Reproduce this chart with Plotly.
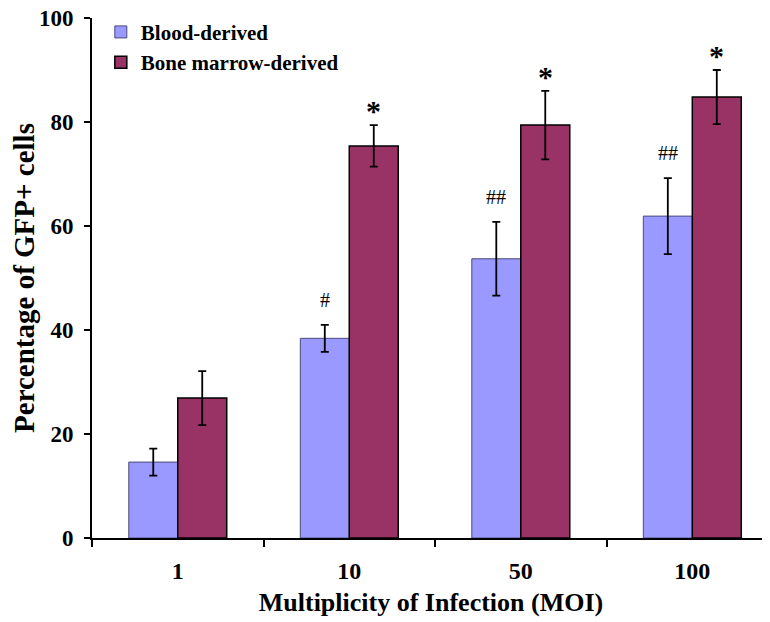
import plotly.graph_objects as go

categories = ["1", "10", "50", "100"]
blood_values = [14.6, 38.4, 53.7, 61.9]
blood_err = [2.6, 2.6, 7.1, 7.3]
marrow_values = [26.9, 75.4, 79.4, 84.8]
marrow_err = [5.2, 4.0, 6.6, 5.2]
blood_marks = ["", "#", "##", "##"]
marrow_marks = ["", "*", "*", "*"]
y_ticks = [0, 20, 40, 60, 80, 100]

BLUE = "#9999FF"
RED = "#993366"
FONT = "Liberation Serif"

fig = go.Figure()
fig.add_trace(go.Bar(
    name="<b>Blood-derived</b>", x=categories, y=blood_values,
    marker=dict(color=BLUE, line=dict(color="#4a4a7a", width=1)),
    error_y=dict(type="data", array=blood_err, color="black", thickness=1.8, width=4),
))
fig.add_trace(go.Bar(
    name="<b>Bone marrow-derived</b>", x=categories, y=marrow_values,
    marker=dict(color=RED, line=dict(color="black", width=1.5)),
    error_y=dict(type="data", array=marrow_err, color="black", thickness=1.8, width=4),
))

annotations = []
for i, c in enumerate(categories):
    if blood_marks[i]:
        annotations.append(dict(
            x=i - 0.143, y=blood_values[i] + blood_err[i], xref="x", yref="y",
            text=blood_marks[i], showarrow=False, yanchor="bottom", yshift=12,
            font=dict(family=FONT, size=20, color="black"),
        ))
    if marrow_marks[i]:
        annotations.append(dict(
            x=i + 0.143, y=marrow_values[i] + marrow_err[i], xref="x", yref="y",
            text="<b>" + marrow_marks[i] + "</b>", showarrow=False, yanchor="bottom", yshift=-4,
            font=dict(family=FONT, size=30, color="black"),
        ))

fig.update_layout(
    width=762, height=614,
    margin=dict(l=84, r=0, t=10, b=84),
    paper_bgcolor="white", plot_bgcolor="white",
    barmode="group", bargap=0.429, bargroupgap=0,
    font=dict(family=FONT, color="black"),
    showlegend=True,
    legend=dict(x=0.013, y=1.012, xanchor="left", yanchor="top",
                font=dict(family=FONT, size=21, color="black"),
                bgcolor="rgba(0,0,0,0)", tracegroupgap=0, itemwidth=30),
    annotations=annotations,
    xaxis=dict(
        type="category", range=[-0.5, 3.453], tickson="boundaries",
        automargin=False,
        showline=True, linecolor="black", linewidth=2,
        ticks="outside", ticklen=7, tickwidth=2, tickcolor="black",
        tickfont=dict(family=FONT, size=24, color="black"),
        ticklabelstandoff=10,
        tickvals=categories, ticktext=["<b>%s</b>" % c for c in categories],
        showgrid=False, zeroline=False,
        title=dict(text="<b>Multiplicity of Infection (MOI)</b>",
                   font=dict(family=FONT, size=26, color="black"), standoff=10),
    ),
    yaxis=dict(
        range=[0, 100], tickvals=y_ticks, ticktext=["<b>%d</b>" % v for v in y_ticks],
        automargin=False, ticklabeloverflow="allow",
        showline=True, linecolor="black", linewidth=2,
        ticks="outside", ticklen=6, tickwidth=2, tickcolor="black",
        tickfont=dict(family=FONT, size=23, color="black"),
        ticklabelstandoff=6,
        showgrid=False, zeroline=False,
        title=dict(text="<b>Percentage of GFP+ cells</b>",
                   font=dict(family=FONT, size=29, color="black"), standoff=6),
    ),
)

fig.write_html("out.html")
